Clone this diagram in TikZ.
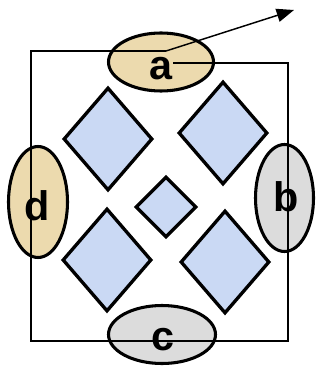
\documentclass[tikz,border=0pt]{standalone}
\usepackage{fontspec}
\setmainfont{Liberation Sans}
\usetikzlibrary{shapes.geometric,arrows.meta}
\definecolor{tan}{HTML}{ECDAAE}
\definecolor{lgray}{HTML}{DCDCDC}
\definecolor{lblue}{HTML}{CAD9F4}
\tikzset{
  oval/.style={ellipse,draw=black,line width=2.3pt,inner sep=0pt},
  gem/.style={diamond,draw=black,line width=2.5pt,fill=lblue,inner sep=0pt},
  frame/.style={line width=1.1pt},
  lab/.style={anchor=base,font=\fontsize{31}{31}\selectfont\bfseries,inner sep=0pt}
}
\begin{document}
\begin{tikzpicture}[x=0.75pt,y=-0.75pt]
\useasboundingbox (0,0) rectangle (320,377);
% diamonds
\node[gem,minimum width=89*0.75pt,minimum height=103*0.75pt] (tl) at (108,139) {};
\node[gem,minimum width=89*0.75pt,minimum height=103*0.75pt] (tr) at (223,133) {};
\node[gem,minimum width=61*0.75pt,minimum height=61*0.75pt] (mid) at (166,207) {};
\node[gem,minimum width=89*0.75pt,minimum height=103*0.75pt] (bl) at (107,260) {};
\node[gem,minimum width=89*0.75pt,minimum height=103*0.75pt] (br) at (225,262) {};
% ovals
\node[oval,fill=tan,minimum width=105*0.75pt,minimum height=58*0.75pt] (a) at (161,62) {};
\node[oval,fill=tan,minimum width=59*0.75pt,minimum height=111*0.75pt] (d) at (38,202) {};
\node[oval,fill=lgray,minimum width=58*0.75pt,minimum height=107*0.75pt] (b) at (284.5,198) {};
\node[oval,fill=lgray,minimum width=107*0.75pt,minimum height=58*0.75pt] (c) at (162,334.5) {};
% frame
\coordinate (as) at (166,51);
\coordinate (ae) at (173,63);
\coordinate (tip) at (294,10);
\draw[frame] (as) -- (31,51) -- (31,341) -- (288,341) -- (288,63) -- (ae);
\draw[frame,-{Triangle[length=13pt,width=10pt]}] (as) -- (tip);
% labels
\node[lab] (la) at (160.5,80) {a};
\node[lab] (ld) at (37,220) {d};
\node[lab] (lb) at (286,211) {b};
\node[lab] (lc) at (162.5,350) {c};
\end{tikzpicture}
\end{document}
